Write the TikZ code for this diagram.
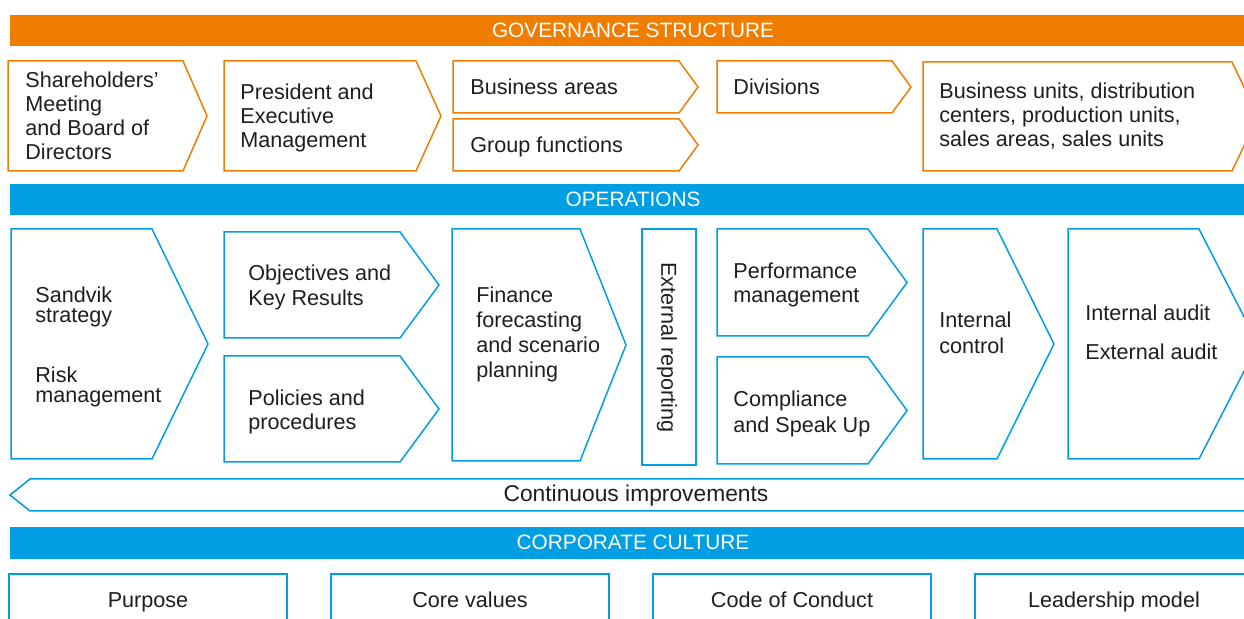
\documentclass[tikz,border=0pt]{standalone}
\usepackage{fontspec}
\setmainfont{Liberation Sans}
\definecolor{sorange}{HTML}{F07D00}
\definecolor{sblue}{HTML}{009FE3}
\definecolor{stext}{HTML}{1E1E1E}
\newcommand\chevbox[6]{\draw[#6] (#1,#2) -- (#3,#2) -- (#4,{(#2+#5)/2}) -- (#3,#5) -- (#1,#5) -- cycle;}
\begin{document}
\begin{tikzpicture}[x=0.5pt,y=-0.5pt,
  govline/.style={draw=sorange,line width=0.75pt,line join=miter},
  opsline/.style={draw=sblue,line width=0.75pt,line join=miter},
  lbl/.style={font=\fontsize{10.8}{12}\selectfont,text=stext,align=left,inner sep=0pt,anchor=west},
  one/.style={font=\fontsize{10.8}{12}\selectfont,text=stext,inner sep=0pt,anchor=base},
  bartext/.style={font=\fontsize{10.4}{12}\selectfont,text=white,inner sep=0pt,anchor=base}]
\useasboundingbox (0,0) rectangle (1244,619);
\clip (0,0) rectangle (1244,619);

% ---------- Governance structure ----------
\fill[sorange] (10,15) rectangle (1260,46);
\node[bartext] (gov) at (633,37.5) {GOVERNANCE STRUCTURE};

\chevbox{8}{61}{183}{207}{171}{govline}
\node[lbl] (share) at (25,116) {Shareholders'\\Meeting\\and Board of\\Directors};
\chevbox{224}{61}{416}{441}{171}{govline}
\node[lbl] (pres) at (240,118) {President and\\Executive\\Management};
\chevbox{453}{61}{679}{698}{113}{govline}
\node[one,anchor=base west] (ba) at (470,95) {Business areas};
\chevbox{453}{119}{679}{698}{171}{govline}
\node[one,anchor=base west] (gf) at (470,153) {Group functions};
\chevbox{717}{61}{892}{911}{113}{govline}
\node[one,anchor=base west] (div) at (733,95) {Divisions};
\chevbox{923}{62}{1232}{1258}{171}{govline}
\node[lbl] (bu) at (939,116.5) {Business units, distribution\\centers, production units,\\sales areas, sales units};

% ---------- Operations ----------
\fill[sblue] (10,184) rectangle (1260,215);
\node[bartext] (ops) at (633,207) {OPERATIONS};

\chevbox{11}{229}{152}{208}{459}{opsline}
\node[lbl,font=\fontsize{10.8}{10}\selectfont] (strat) at (35,306.5) {Sandvik\\strategy};
\node[lbl,font=\fontsize{10.8}{10}\selectfont] (risk) at (35,386.5) {Risk\\management};

\chevbox{224}{232}{400}{439}{338}{opsline}
\node[lbl,font=\fontsize{10.8}{12.5}\selectfont] (okr) at (248,287.5) {Objectives and\\Key Results};
\chevbox{224}{356}{400}{439}{462}{opsline}
\node[lbl] (pol) at (248,412) {Policies and\\procedures};

\chevbox{452}{229}{580}{626}{461}{opsline}
\node[lbl,font=\fontsize{10.8}{12.5}\selectfont] (fin) at (476,334.5) {Finance\\forecasting\\and scenario\\planning};

\draw[opsline] (642,229) rectangle (696,465);
\node[one,anchor=center,rotate=-90] (ext) at (667,347.5) {External reporting};

\chevbox{717}{229}{868}{907}{336}{opsline}
\node[lbl] (perf) at (733,285) {Performance\\management};
\chevbox{717}{357}{868}{907}{464}{opsline}
\node[lbl,font=\fontsize{10.8}{12.8}\selectfont] (comp) at (733,414) {Compliance\\and Speak Up};

\chevbox{923}{229}{997}{1054}{459}{opsline}
\node[lbl,font=\fontsize{10.8}{13}\selectfont] (ic) at (939,332.5) {Internal\\control};
\chevbox{1068}{229}{1199}{1258}{459}{opsline}
\node[lbl,font=\fontsize{10.8}{19.5}\selectfont] (audit) at (1085,332) {Internal audit\\External audit};

% ---------- Continuous improvements ----------
\draw[opsline] (1260,479) -- (30,479) -- (10,495) -- (30,511) -- (1260,511);
\node[one,font=\fontsize{11.4}{12}\selectfont] (ci) at (636,502) {Continuous improvements};

% ---------- Corporate culture ----------
\fill[sblue] (10,527) rectangle (1260,559);
\node[bartext] (cult) at (633,550) {CORPORATE CULTURE};

\draw[opsline] (9,630) -- (9,574) -- (287,574) -- (287,630);
\node[one] (purp) at (148,608) {Purpose};
\draw[opsline] (331,630) -- (331,574) -- (609,574) -- (609,630);
\node[one] (core) at (470,608) {Core values};
\draw[opsline] (653,630) -- (653,574) -- (931,574) -- (931,630);
\node[one] (code) at (792,608) {Code of Conduct};
\draw[opsline] (975,630) -- (975,574) -- (1253,574) -- (1253,630);
\node[one] (lead) at (1114,608) {Leadership model};
\end{tikzpicture}
\end{document}
